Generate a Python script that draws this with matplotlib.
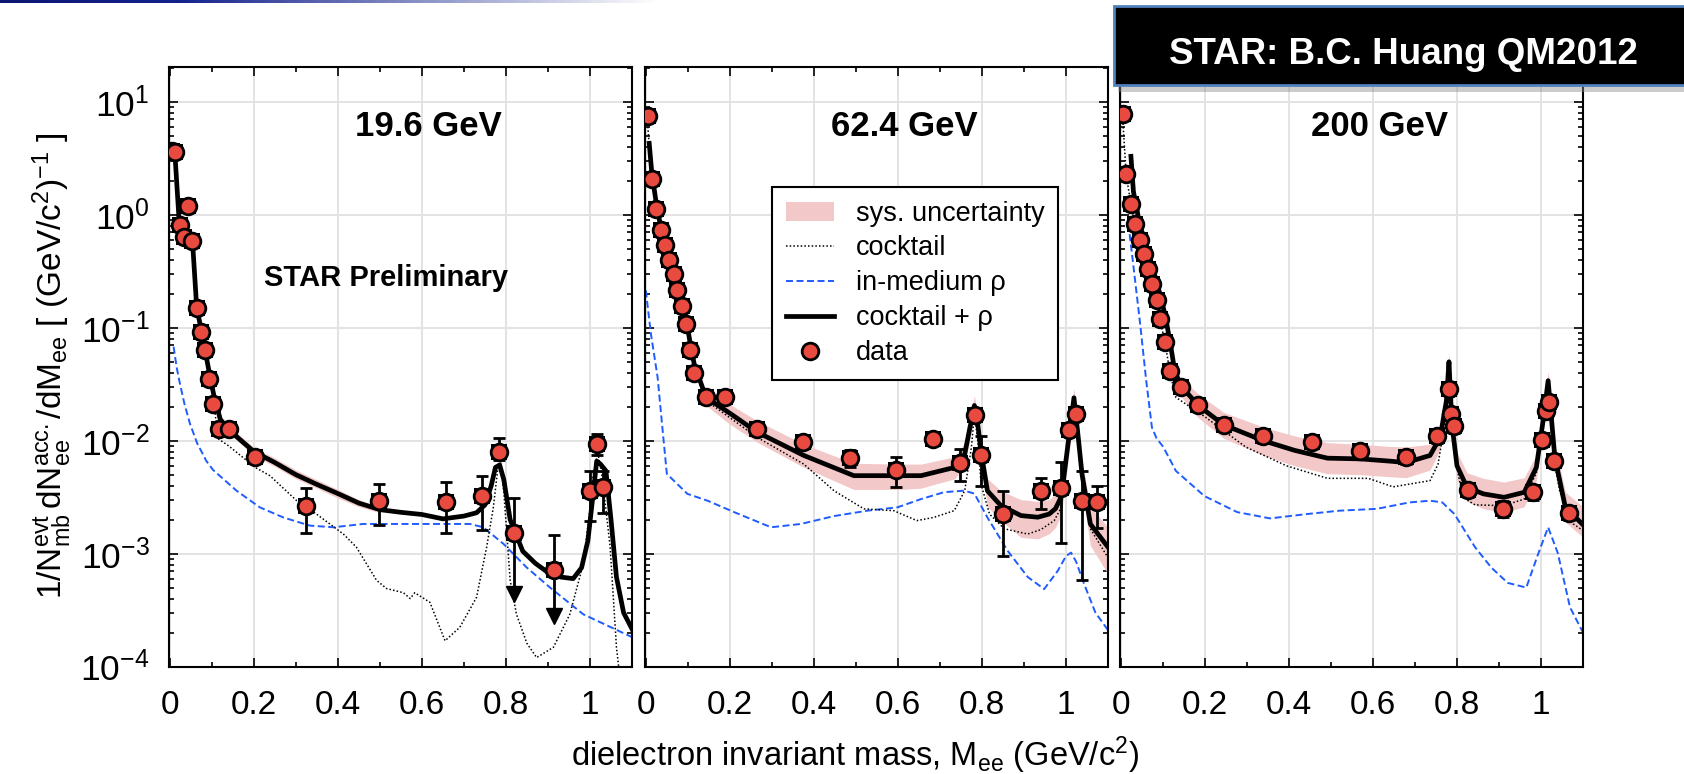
import numpy as np
import matplotlib
matplotlib.use("Agg")
import matplotlib.pyplot as plt
from matplotlib import ticker
from matplotlib.colors import LinearSegmentedColormap
from matplotlib.patches import Rectangle, Patch
from matplotlib.lines import Line2D

plt.rcParams["font.family"] = ["Liberation Sans", "DejaVu Sans"]
plt.rcParams["mathtext.fontset"] = "custom"
plt.rcParams["mathtext.rm"] = "Liberation Sans"
plt.rcParams["mathtext.it"] = "Liberation Sans:italic"
plt.rcParams["mathtext.bf"] = "Liberation Sans:bold"
plt.rcParams["axes.unicode_minus"] = False

# ---------------- 19.6 GeV ----------------
m196 = [0.004, 0.012, 0.024, 0.033, 0.044, 0.053, 0.064, 0.073, 0.083, 0.093, 0.103, 0.117, 0.141,
        0.203, 0.324, 0.498, 0.657, 0.744, 0.784, 0.818, 0.914, 1.000, 1.016, 1.030]
y196 = [3.7, 3.6, 0.81, 0.64, 1.19, 0.59, 0.150, 0.092, 0.064, 0.0354, 0.0213, 0.0127, 0.0127,
        0.0072, 0.00266, 0.0029, 0.00288, 0.00321, 0.0080, 0.00152, 0.00072, 0.00361, 0.00938, 0.00386]
hi196 = [4.0, 3.9, 0.88, 0.70, 1.32, 0.65, 0.165, 0.101, 0.070, 0.039, 0.0235, 0.0140, 0.0140,
         0.0079, 0.0038, 0.0041, 0.00428, 0.00487, 0.0106, 0.0031, 0.00147, 0.00536, 0.0115, 0.00543]
lo196 = [3.4, 3.3, 0.74, 0.58, 1.07, 0.53, 0.136, 0.083, 0.058, 0.032, 0.0193, 0.0115, 0.0115,
         0.0065, 0.00153, 0.0018, 0.00153, 0.00162, 0.0067, 0.00044, 0.00028, 0.00196, 0.0075, 0.00227]
uplim196 = [19, 20]  # points drawn as upper limits (arrows)

cx196 = [0.005, 0.012, 0.022, 0.035, 0.045, 0.054, 0.064, 0.075, 0.085, 0.095, 0.105, 0.12, 0.14,
         0.2, 0.25, 0.3, 0.35, 0.4, 0.45, 0.5, 0.55, 0.6, 0.65, 0.7, 0.73, 0.75, 0.765, 0.775,
         0.785, 0.795, 0.81, 0.84, 0.87, 0.9, 0.93, 0.96, 0.98, 0.995, 1.008, 1.016, 1.025, 1.038,
         1.05, 1.063, 1.08, 1.1]
cy196 = [3.6, 3.5, 0.9, 0.72, 0.65, 0.58, 0.15, 0.095, 0.06, 0.038, 0.025, 0.0155, 0.0125,
         0.008, 0.0064, 0.0050, 0.0041, 0.0034, 0.0028, 0.00245, 0.00232, 0.00222, 0.00203, 0.00215,
         0.0023, 0.0027, 0.0040, 0.0058, 0.0061, 0.0045, 0.0020, 0.00105, 0.00082, 0.00068, 0.00062,
         0.0006, 0.00075, 0.0013, 0.0035, 0.0066, 0.0062, 0.0054, 0.0020, 0.00062, 0.00030, 0.000215]
kx196 = [0.005, 0.012, 0.022, 0.035, 0.045, 0.054, 0.064, 0.075, 0.085, 0.095, 0.105, 0.115, 0.14,
         0.203, 0.238, 0.302, 0.349, 0.413, 0.444, 0.492, 0.516, 0.556, 0.572, 0.583, 0.619, 0.655,
         0.690, 0.730, 0.754, 0.770, 0.780, 0.786, 0.795, 0.810, 0.825, 0.850, 0.873, 0.913, 0.952,
         0.984, 1.0, 1.008, 1.019, 1.030, 1.048, 1.063, 1.075]
ky196 = [3.5, 3.4, 0.85, 0.68, 0.62, 0.55, 0.14, 0.088, 0.055, 0.034, 0.021, 0.0104, 0.009,
         0.0058, 0.0049, 0.00294, 0.00224, 0.00149, 0.00114, 0.00058, 0.00049, 0.00045, 0.0004,
         0.00045, 0.00037, 0.000169, 0.000222, 0.00041, 0.00114, 0.00257, 0.0054, 0.0070, 0.0035,
         0.00058, 0.00029, 0.00016, 0.00012, 0.000148, 0.00029, 0.00081, 0.0025, 0.0051, 0.0078,
         0.0045, 0.00114, 0.000148, 0.00006]
bx196 = [0.009, 0.016, 0.024, 0.035, 0.048, 0.065, 0.087, 0.103, 0.159, 0.214, 0.27, 0.333, 0.389,
         0.46, 0.556, 0.651, 0.714, 0.746, 0.794, 0.849, 0.905, 0.984, 1.1]
by196 = [0.068, 0.045, 0.032, 0.021, 0.0141, 0.0095, 0.0066, 0.0055, 0.0036, 0.00257, 0.00209,
         0.00177, 0.00171, 0.00183, 0.00183, 0.00183, 0.00183, 0.00171, 0.00122, 0.000755, 0.0005,
         0.00029, 0.000182]
sx196 = [0.14, 0.2, 0.25, 0.3, 0.35, 0.4, 0.45, 0.5]
shi196 = [0.0136, 0.0087, 0.0070, 0.0055, 0.0045, 0.0037, 0.0030, 0.0026]
slo196 = [0.0116, 0.0074, 0.0059, 0.0046, 0.0038, 0.0031, 0.0026, 0.0023]

# ---------------- 62.4 GeV ----------------
m624 = [0.004, 0.014, 0.025, 0.035, 0.045, 0.056, 0.066, 0.075, 0.086, 0.096, 0.105, 0.115, 0.143,
        0.188, 0.264, 0.374, 0.486, 0.595, 0.684, 0.748, 0.783, 0.798, 0.851, 0.940, 0.988, 1.007,
        1.024, 1.038, 1.075]
y624 = [7.47, 2.09, 1.135, 0.74, 0.537, 0.401, 0.297, 0.217, 0.157, 0.108, 0.063, 0.040, 0.0246,
        0.0246, 0.0127, 0.0097, 0.0070, 0.00554, 0.0104, 0.00635, 0.0170, 0.00754, 0.00224, 0.00361,
        0.00379, 0.0125, 0.0173, 0.0029, 0.00284]
hi624 = [8.5, 2.35, 1.25, 0.81, 0.59, 0.44, 0.325, 0.238, 0.172, 0.119, 0.069, 0.044, 0.027,
         0.027, 0.0142, 0.0109, 0.0083, 0.0072, 0.0118, 0.00845, 0.0190, 0.0110, 0.00361, 0.00465,
         0.00644, 0.0140, 0.0195, 0.00536, 0.0040]
lo624 = [6.6, 1.85, 1.03, 0.67, 0.487, 0.364, 0.27, 0.197, 0.143, 0.098, 0.057, 0.036, 0.0224,
         0.0224, 0.0114, 0.0087, 0.0058, 0.0039, 0.0093, 0.00443, 0.0152, 0.0040, 0.00096, 0.00248,
         0.00123, 0.0111, 0.0155, 0.00058, 0.00169]
uplim624 = []

cx624 = [0.008, 0.014, 0.025, 0.035, 0.045, 0.056, 0.066, 0.075, 0.086, 0.096, 0.105, 0.115, 0.143,
         0.2, 0.265, 0.376, 0.495, 0.607, 0.655, 0.735, 0.759, 0.770, 0.782, 0.790, 0.798, 0.813,
         0.845, 0.893, 0.933, 0.96, 0.975, 0.989, 1.004, 1.019, 1.03, 1.038, 1.058, 1.1]
cy624 = [4.3, 2.4, 1.25, 0.8, 0.58, 0.43, 0.32, 0.235, 0.17, 0.12, 0.075, 0.048, 0.0242,
         0.0175, 0.0119, 0.0074, 0.0049, 0.0049, 0.0049, 0.0058, 0.0076, 0.0123, 0.0205, 0.014,
         0.0079, 0.0036, 0.00266, 0.00217, 0.0021, 0.00224, 0.0025, 0.0032, 0.0088, 0.024, 0.010,
         0.0051, 0.00183, 0.00114]
kx624 = [0.004, 0.014, 0.025, 0.035, 0.045, 0.056, 0.066, 0.075, 0.086, 0.096, 0.105, 0.115, 0.143,
         0.265, 0.376, 0.448, 0.519, 0.590, 0.645, 0.685, 0.734, 0.759, 0.775, 0.782, 0.79, 0.798,
         0.818, 0.853, 0.909, 0.940, 0.972, 0.989, 1.004, 1.019, 1.03, 1.038, 1.058, 1.1]
ky624 = [6.5, 2.2, 1.15, 0.75, 0.54, 0.40, 0.30, 0.22, 0.16, 0.11, 0.068, 0.043, 0.0227,
         0.0107, 0.0062, 0.0036, 0.00249, 0.0024, 0.00196, 0.00209, 0.0024, 0.00361, 0.0088, 0.0173,
         0.010, 0.0041, 0.00224, 0.00166, 0.00149, 0.00163, 0.00196, 0.00257, 0.0077, 0.022, 0.009,
         0.0043, 0.00166, 0.00092]
bx624 = [0.0, 0.012, 0.028, 0.040, 0.05, 0.099, 0.147, 0.21, 0.298, 0.369, 0.448, 0.528, 0.599,
         0.655, 0.710, 0.758, 0.782, 0.813, 0.861, 0.909, 0.948, 0.98, 1.0, 1.012, 1.024, 1.043,
         1.07, 1.1]
by624 = [0.214, 0.0886, 0.0365, 0.0123, 0.00508, 0.00338, 0.00294, 0.00233, 0.00171, 0.00183,
         0.00215, 0.0024, 0.00257, 0.00304, 0.0035, 0.00361, 0.0034, 0.00209, 0.00106, 0.00062,
         0.000485, 0.0007, 0.00095, 0.00102, 0.00085, 0.00054, 0.0003, 0.00021]
sx624 = [0.143, 0.2, 0.265, 0.376, 0.495, 0.607, 0.655, 0.735, 0.759, 0.770, 0.782, 0.790, 0.798,
         0.813, 0.845, 0.893, 0.933, 0.96, 0.975, 0.989, 1.004, 1.019, 1.03, 1.038, 1.058, 1.1]
shi624 = [0.0275, 0.021, 0.0150, 0.0093, 0.0063, 0.0062, 0.0062, 0.0072, 0.0095, 0.015, 0.025,
          0.017, 0.0098, 0.0046, 0.0036, 0.0030, 0.0029, 0.0030, 0.0034, 0.0044, 0.011, 0.029,
          0.013, 0.0066, 0.0026, 0.00171]
slo624 = [0.0205, 0.014, 0.0097, 0.0058, 0.0037, 0.0037, 0.0038, 0.0046, 0.0060, 0.0098, 0.0165,
          0.011, 0.0062, 0.0026, 0.00196, 0.00139, 0.00135, 0.0015, 0.0017, 0.0022, 0.0062, 0.018,
          0.0072, 0.0037, 0.00118, 0.00066]

# ---------------- 200 GeV ----------------
m200 = [0.004, 0.013, 0.025, 0.033, 0.045, 0.055, 0.065, 0.075, 0.086, 0.094, 0.106, 0.117, 0.142,
        0.184, 0.245, 0.339, 0.454, 0.570, 0.679, 0.753, 0.781, 0.787, 0.792, 0.826, 0.909, 0.980,
        1.003, 1.011, 1.019, 1.030, 1.067]
y200 = [7.89, 2.32, 1.256, 0.835, 0.603, 0.447, 0.334, 0.245, 0.175, 0.120, 0.0745, 0.0418, 0.0297,
        0.0205, 0.0138, 0.0109, 0.0098, 0.00817, 0.00723, 0.0109, 0.0288, 0.0173, 0.0134, 0.00368,
        0.00248, 0.00349, 0.0102, 0.0182, 0.0219, 0.00665, 0.00229]
hi200 = [9.0, 2.6, 1.40, 0.93, 0.67, 0.50, 0.37, 0.27, 0.195, 0.133, 0.083, 0.047, 0.033,
         0.023, 0.0155, 0.0122, 0.0111, 0.0093, 0.0083, 0.0124, 0.032, 0.0195, 0.0152, 0.0042,
         0.0029, 0.0040, 0.0116, 0.0203, 0.0244, 0.0076, 0.0026]
lo200 = [6.9, 2.07, 1.12, 0.745, 0.54, 0.40, 0.30, 0.22, 0.157, 0.108, 0.066, 0.037, 0.0265,
         0.0183, 0.0122, 0.0096, 0.0086, 0.0071, 0.0062, 0.0095, 0.0256, 0.0152, 0.0117, 0.0032,
         0.0021, 0.0030, 0.0089, 0.016, 0.0195, 0.0058, 0.0020]
uplim200 = []

cx200 = [0.024, 0.03, 0.037, 0.045, 0.057, 0.067, 0.077, 0.087, 0.098, 0.107, 0.118, 0.128, 0.142,
         0.184, 0.245, 0.339, 0.414, 0.492, 0.570, 0.638, 0.679, 0.736, 0.760, 0.775, 0.781, 0.788,
         0.80, 0.824, 0.863, 0.912, 0.96, 0.989, 1.005, 1.017, 1.033, 1.058, 1.1]
cy200 = [3.3, 1.6, 1.2, 0.8, 0.6, 0.44, 0.33, 0.24, 0.17, 0.12, 0.072, 0.042, 0.031,
         0.0205, 0.0138, 0.0100, 0.0082, 0.0070, 0.0069, 0.0066, 0.0064, 0.0074, 0.0107, 0.0227,
         0.050, 0.0141, 0.0060, 0.00386, 0.00338, 0.00315, 0.00349, 0.0058, 0.015, 0.034, 0.0071,
         0.00257, 0.0018]
kx200 = [0.004, 0.013, 0.025, 0.033, 0.045, 0.055, 0.065, 0.075, 0.086, 0.094, 0.106, 0.117, 0.131,
         0.2, 0.297, 0.394, 0.492, 0.589, 0.648, 0.736, 0.755, 0.775, 0.782, 0.79, 0.80, 0.814,
         0.843, 0.912, 0.96, 0.989, 1.005, 1.017, 1.03, 1.045, 1.077, 1.1]
ky200 = [7.5, 2.2, 1.2, 0.8, 0.58, 0.43, 0.32, 0.235, 0.168, 0.115, 0.071, 0.040, 0.0242,
         0.0163, 0.0088, 0.0060, 0.00464, 0.00464, 0.0039, 0.00443, 0.0062, 0.0173, 0.040, 0.012,
         0.0058, 0.00315, 0.0027, 0.00266, 0.00304, 0.0052, 0.014, 0.030, 0.007, 0.0035, 0.00183,
         0.0016]
bx200 = [0.018, 0.03, 0.046, 0.06, 0.074, 0.085, 0.101, 0.131, 0.199, 0.277, 0.355, 0.443, 0.521,
         0.609, 0.687, 0.736, 0.765, 0.794, 0.843, 0.882, 0.921, 0.965, 0.994, 1.017, 1.04, 1.069,
         1.1]
by200 = [0.835, 0.35, 0.108, 0.035, 0.0131, 0.0105, 0.0088, 0.0054, 0.00323, 0.00233, 0.00205,
         0.00224, 0.0024, 0.00249, 0.00284, 0.00294, 0.00284, 0.00224, 0.00114, 0.00075, 0.00055,
         0.0005, 0.00101, 0.00171, 0.00101, 0.000335, 0.0002]
sx200 = [0.142, 0.184, 0.245, 0.339, 0.414, 0.492, 0.570, 0.638, 0.679, 0.736, 0.760, 0.775, 0.781,
         0.788, 0.80, 0.824, 0.863, 0.912, 0.96, 0.989, 1.005, 1.017, 1.033, 1.058, 1.1]
shi200 = [0.036, 0.026, 0.0178, 0.0132, 0.0110, 0.0096, 0.0093, 0.0089, 0.0088, 0.0093, 0.013,
          0.028, 0.060, 0.018, 0.0079, 0.0052, 0.00464, 0.0043, 0.0047, 0.0075, 0.019, 0.041,
          0.0092, 0.0035, 0.0026]
slo200 = [0.025, 0.016, 0.0105, 0.0074, 0.0060, 0.0051, 0.0050, 0.0048, 0.0047, 0.0055, 0.0084,
          0.018, 0.040, 0.011, 0.0045, 0.0029, 0.0025, 0.0023, 0.0026, 0.0044, 0.012, 0.028,
          0.0055, 0.0019, 0.0014]

titles = ["19.6 GeV", "62.4 GeV", "200 GeV"]

RED = "#e84a3f"
PINK = "#f2c8c8"
BLUE = "#1f5cff"

panels = [
    dict(m=m196, y=y196, hi=hi196, lo=lo196, lim=uplim196, cx=cx196, cy=cy196, kx=kx196, ky=ky196,
         bx=bx196, by=by196, sx=sx196, shi=shi196, slo=slo196),
    dict(m=m624, y=y624, hi=hi624, lo=lo624, lim=uplim624, cx=cx624, cy=cy624, kx=kx624, ky=ky624,
         bx=bx624, by=by624, sx=sx624, shi=shi624, slo=slo624),
    dict(m=m200, y=y200, hi=hi200, lo=lo200, lim=uplim200, cx=cx200, cy=cy200, kx=kx200, ky=ky200,
         bx=bx200, by=by200, sx=sx200, shi=shi200, slo=slo200),
]

W, H = 1684, 774
fig = plt.figure(figsize=(W / 100, H / 100), dpi=100)

lefts = [169, 645, 1120]
axes = []
for i, p in enumerate(panels):
    ax = fig.add_axes([lefts[i] / W, 1 - 666.5 / H, 463 / W, 599.5 / H])
    axes.append(ax)
    ax.set_yscale("log")
    ax.set_xlim(-0.002, 1.1)
    ax.set_ylim(1e-4, 20.4)
    ax.grid(True, which="major", color="#e3e3e3", lw=1.4)
    ax.set_axisbelow(True)

    ax.fill_between(p["sx"], p["slo"], p["shi"], color=PINK, lw=0, zorder=1)
    ax.plot(p["bx"], p["by"], color=BLUE, lw=1.4, ls=(0, (3.6, 1.8)), zorder=2)
    ax.plot(p["kx"], p["ky"], color="k", lw=1.1, ls=(0, (1, 1.4)), zorder=3)
    ax.plot(p["cx"], p["cy"], color="k", lw=3.4, zorder=4, solid_joinstyle="round")

    m = np.array(p["m"])
    y = np.array(p["y"])
    hi = np.array(p["hi"])
    lo = np.array(p["lo"])
    norm = np.ones(len(m), dtype=bool)
    norm[p["lim"]] = False
    ax.errorbar(m[norm], y[norm], yerr=[y[norm] - lo[norm], hi[norm] - y[norm]], fmt="none",
                ecolor="k", elinewidth=2, capsize=4.5, capthick=2, zorder=5)
    if len(p["lim"]):
        ax.vlines(m[~norm], lo[~norm], hi[~norm], color="k", lw=2, zorder=5)
        ax.plot(m[~norm], hi[~norm], "_", ms=9, mew=2, color="k", zorder=5)
        ax.plot(m[~norm], lo[~norm], "v", ms=11, color="k", zorder=5)
    ax.plot(m, y, "s", ms=11.5, color="k", mew=0, zorder=6)
    ax.plot(m, y, "o", ms=12, mfc=RED, mec="k", mew=2, zorder=7)

    ax.xaxis.set_major_locator(ticker.MultipleLocator(0.2))
    ax.xaxis.set_minor_locator(ticker.MultipleLocator(0.1))
    ax.xaxis.set_major_formatter(ticker.FormatStrFormatter("%g"))
    ax.yaxis.set_major_locator(ticker.LogLocator(base=10, numticks=12))
    ax.yaxis.set_minor_locator(ticker.LogLocator(base=10, subs=np.arange(2, 10), numticks=12))
    ax.yaxis.set_minor_formatter(ticker.NullFormatter())
    ax.tick_params(which="both", direction="in", top=True, right=True, width=1.2)
    ax.tick_params(which="major", length=6.5)
    ax.tick_params(which="minor", length=3.5)
    ax.tick_params(axis="x", labelsize=24, pad=17)
    ax.tick_params(axis="y", labelsize=25.5, pad=14, labelleft=(i == 0))
    for s in ax.spines.values():
        s.set_linewidth(1.5)

    ax.text(0.56, 0.9, titles[i], transform=ax.transAxes, ha="center", va="center",
            fontsize=25, fontweight="bold")

axes[0].text(0.468, 0.6475, "STAR Preliminary", transform=axes[0].transAxes, ha="center",
             va="center", fontsize=21, fontweight="bold")

handles = [
    Patch(facecolor=PINK, edgecolor="none"),
    Line2D([], [], color="k", lw=1.1, ls=(0, (1, 1.4))),
    Line2D([], [], color=BLUE, lw=1.4, ls=(0, (3.6, 1.8))),
    Line2D([], [], color="k", lw=3.4),
    Line2D([], [], ls="none", marker="o", ms=12, mfc=RED, mec="k", mew=2),
]
labels = ["sys. uncertainty", "cocktail", "in-medium \u03c1", "cocktail + \u03c1", "data"]
leg = axes[1].legend(handles, labels, loc="upper left", bbox_to_anchor=(772 / W, 1 - 187 / H),
                     bbox_transform=fig.transFigure, fontsize=19.5, frameon=True, fancybox=False,
                     edgecolor="black", framealpha=1, borderpad=0.5, labelspacing=0.33,
                     handlelength=1.8, handletextpad=0.8, borderaxespad=0)
leg.get_frame().set_linewidth(1.5)
leg.set_zorder(20)

fig.text(855 / W, 1 - 766 / H,
         r"dielectron invariant mass, M$_{\mathregular{ee}}$ (GeV/c$^{\mathregular{2}}$)",
         ha="center", va="baseline", fontsize=23.5)
fig.text(52 / W, 1 - 366 / H,
         r"$\mathregular{1/N^{evt}_{mb}\,dN^{acc.}_{ee}/dM_{ee}\ [\ (GeV/c^{2})^{-1}\ ]}$",
         rotation=90, ha="center", va="center", fontsize=24)

# thin gradient bar at the very top
ax_top = fig.add_axes([0, 1 - 3 / H, 660 / W, 3 / H])
cmap = LinearSegmentedColormap.from_list("bar", [(0, "#0c1673"), (0.27, "#14228c"), (1, "#ffffff")])
ax_top.imshow(np.linspace(0, 1, 300).reshape(1, -1), aspect="auto", cmap=cmap, extent=[0, 1, 0, 1])
ax_top.axis("off")

# credit box
shadow = Rectangle((1118 / W, 1 - 92 / H), (1700 - 1118) / W, 79 / H, transform=fig.transFigure,
                   facecolor="#8c8c8c", alpha=0.45, edgecolor="none", zorder=9)
box = Rectangle((1114 / W, 1 - 85 / H), (1700 - 1114) / W, 79 / H, transform=fig.transFigure,
                facecolor="black", edgecolor="#4f81bd", lw=2, zorder=10)
fig.patches.extend([shadow, box])
fig.text(1403.5 / W, 1 - 55 / H, "STAR: B.C. Huang QM2012", color="white", fontsize=26.5,
         fontweight="bold", ha="center", va="center", zorder=11)

fig.savefig("out.png", dpi=100)
